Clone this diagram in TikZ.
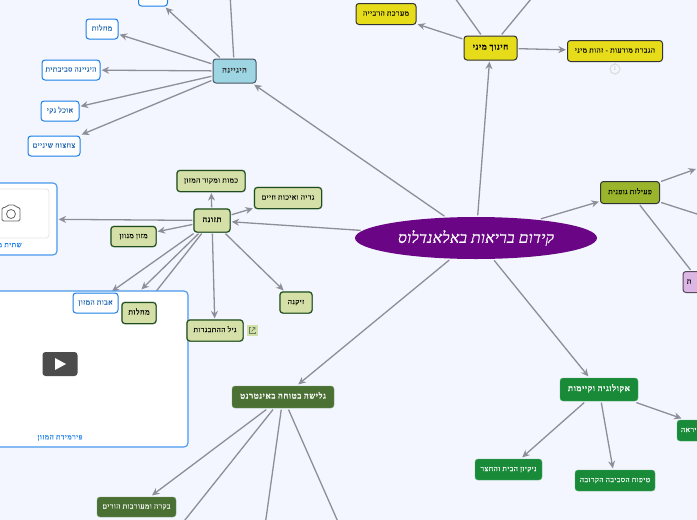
\documentclass[tikz,border=0pt]{standalone}
\usepackage{fontspec}
\usetikzlibrary{arrows.meta,shapes.geometric}
\TeXXeTstate=1
\newfontfamily\hbf[Script=Hebrew,LetterSpace=8,FakeBold=0.3]{Liberation Serif}
\newfontfamily\hbr[Script=Hebrew,LetterSpace=2,FakeBold=0.8]{Liberation Serif}
\newcommand{\hetxt}[1]{{\hbf\beginR #1\endR}}
\newcommand{\hetop}[1]{{\hbr\itshape\beginR #1\endR}}
\definecolor{bgc}{HTML}{F3F6FF}
\definecolor{linkc}{HTML}{8E8E98}
\definecolor{yelc}{HTML}{E6DC1A}
\definecolor{olvc}{HTML}{9AB52B}
\definecolor{grnc}{HTML}{D5DFA8}
\definecolor{grnd}{HTML}{1F4D1F}
\definecolor{cyac}{HTML}{9DD5E3}
\definecolor{dgrc}{HTML}{4A7033}
\definecolor{ecoc}{HTML}{188A38}
\definecolor{purc}{HTML}{DCB6E4}
\definecolor{bluc}{HTML}{1A7FE8}
\definecolor{centc}{HTML}{6A0585}
\pgfdeclarelayer{bgl}
\pgfsetlayers{bgl,main}
\tikzset{
  x=1pt,y=-1pt,
  box/.style={rectangle,rounded corners=3pt,inner sep=0pt,outer sep=1.6pt,text height=4.5pt,text depth=1.5pt,font=\fontsize{7.1pt}{8pt}\selectfont,align=center},
  yelbox/.style={box,fill=yelc,draw=black!80,line width=1pt},
  olvbox/.style={box,fill=olvc,draw=black!80,line width=1pt},
  grnbox/.style={box,fill=grnc,draw=grnd,line width=1pt,preaction={draw=grnd!55,line width=1.8pt},text=black},
  cyabox/.style={box,fill=cyac,draw=black!70!cyan,line width=1pt,text=black!80},
  bluebox/.style={box,fill=white,draw=bluc,line width=1pt,text=bluc!75!black},
  dgrbox/.style={box,fill=dgrc,text=white,draw=dgrc!70!white,line width=.4pt},
  ecobox/.style={box,fill=ecoc,text=white,draw=ecoc!70!white,line width=.4pt},
  purbox/.style={box,fill=purc,draw=purc!40!black,line width=1pt},
  card/.style={rectangle,rounded corners=4pt,fill=white,draw=bluc!80!white,line width=1.1pt,inner sep=0pt,outer sep=1.6pt},
  caption/.style={inner sep=0pt,text=bluc,font=\fontsize{7.1pt}{8pt}\selectfont},
  link/.style={draw=linkc,line width=1.3pt,-{Stealth[length=7.5pt,width=7pt]}},
  plain/.style={draw=linkc,line width=1.3pt},
}
\begin{document}
\begin{tikzpicture}
\useasboundingbox (0,0) rectangle (697,520);
\begin{pgfonlayer}{bgl}
\fill[bgc] (0,0) rectangle (697,520);
\end{pgfonlayer}
\clip (0,0) rectangle (697,520);

% cards
\node[card,minimum width=92pt,minimum height=72pt] (cam) at (11,219) {};
\draw[black!10,fill=white,rounded corners=3pt,line width=.8pt] (-27,189) rectangle (49,238);
\node[caption] (camcap) at (6,245) {\hetxt{שתית מים}};
\node[card,minimum width=256pt,minimum height=156pt] (vid) at (60,369) {};
\node[rectangle,rounded corners=3pt,fill=black!70,minimum width=35pt,minimum height=24pt,inner sep=0pt] (playb) at (60,364) {};
\fill[white] (55,358) -- (66,364) -- (55,370) -- cycle;
\node[caption] (vidcap) at (60,438) {\hetxt{פירמידת המזון}};
% camera icon
\draw[black!60,line width=.8pt,rounded corners=1.5pt,fill=white] (2,207.5) -- (6,207.5) -- (7.5,205) -- (15,205) -- (16.5,207.5) -- (20,207.5) -- (20,221) -- (2,221) -- cycle;
\draw[black!60,line width=.8pt] (11,214) circle (4.5pt);

% root
\node[ellipse,fill=centc,text=white,minimum width=242pt,minimum height=42pt,inner sep=0pt,outer sep=1.6pt,font=\fontsize{15.5pt}{17pt}\selectfont] (root) at (476,238) {\hetop{קידום בריאות באלאנדלוס}};

% chinuch
\node[yelbox,minimum width=53pt,minimum height=24pt,font=\fontsize{8.3pt}{9pt}\selectfont\bfseries] (min) at (490.5,48) {\hetxt{חינוך מיני}};
\node[yelbox,minimum width=60pt,minimum height=21pt] (rep) at (386,14) {\hetxt{מערכת הרבייה}};
\node[yelbox,minimum width=95pt,minimum height=21pt] (mod) at (615,51) {\hetxt{הגברת מודעות - זהות מיני}};
\draw[black!15,line width=.8pt] (615,62) -- (615,64);
\node[circle,draw=black!15,line width=1pt,inner sep=0pt,minimum size=10pt,text=black!25,font=\fontsize{6pt}{6pt}\selectfont] (numb) at (615,69) {1};

% sport
\node[olvbox,minimum width=59pt,minimum height=22pt] (gym) at (630,192.5) {\hetxt{פעילות גופנית}};
\node[purbox,minimum width=34pt,minimum height=21pt,text width=26pt,align=left] (pur) at (700,282) {\hetxt{ת}};

% hygiene
\node[cyabox,minimum width=43pt,minimum height=24pt,font=\fontsize{8pt}{9pt}\selectfont\bfseries] (hyg) at (234.5,71) {\hetxt{היגיינה}};
\node[bluebox,minimum width=29pt,minimum height=20pt] (htop) at (153,-4) {};
\node[bluebox,minimum width=32pt,minimum height=20pt] (hdis) at (102,29) {\hetxt{מחלות}};
\node[bluebox,minimum width=58pt,minimum height=20pt] (henv) at (71,70) {\hetxt{היגיינה סביבתית}};
\node[bluebox,minimum width=38pt,minimum height=20pt] (hfood) at (60,111) {\hetxt{אוכל נקי}};
\node[bluebox,minimum width=52pt,minimum height=20pt] (hteeth) at (54,146) {\hetxt{צחצוח שיניים}};

% nutrition
\node[grnbox,minimum width=36pt,minimum height=23pt,font=\fontsize{8pt}{9pt}\selectfont\bfseries] (nut) at (212,220.5) {\hetxt{תזונה}};
\node[grnbox,minimum width=68pt,minimum height=21pt] (amt) at (211,181) {\hetxt{כמות ומקור המזון}};
\node[grnbox,minimum width=67pt,minimum height=21pt] (grow) at (288,198) {\hetxt{גדיה ואיכות חיים}};
\node[grnbox,minimum width=45pt,minimum height=20pt] (var) at (133.5,236.5) {\hetxt{מזון מגוון}};
\node[bluebox,minimum width=45pt,minimum height=20pt] (avot) at (95.5,303) {\hetxt{אבות המזון}};
\node[grnbox,minimum width=34pt,minimum height=21pt,font=\fontsize{7.5pt}{8pt}\selectfont] (ndis) at (139,313) {\hetxt{מחלות}};
\node[grnbox,minimum width=56pt,minimum height=21pt] (teen) at (215,330.5) {\hetxt{גיל ההתבגרות}};
\node[grnbox,minimum width=32pt,minimum height=21pt] (old) at (296,302.5) {\hetxt{זיקנה}};
\node[rectangle,fill=grnc,minimum size=11pt,inner sep=0pt] (ext) at (252,330.5) {};
\draw[grnd!70,line width=.6pt] (250.5,327.5) -- (249,327.5) -- (249,333.5) -- (255,333.5) -- (255,331.5);
\draw[grnd!70,line width=.6pt] (251.5,331.5) -- (255,327.5) (252.5,327.5) -- (255,327.5) -- (255,329.5);

% internet
\node[dgrbox,minimum width=102pt,minimum height=22pt,font=\fontsize{8.2pt}{10pt}\selectfont\bfseries] (net) at (283,397) {\hetxt{גלישה בטוחה באינטרנט}};
\node[dgrbox,minimum width=79pt,minimum height=20pt] (par) at (136.5,507) {\hetxt{בקרה ומעורבות הורים}};

% ecology
\node[ecobox,minimum width=78pt,minimum height=23pt,font=\fontsize{8.3pt}{10pt}\selectfont\bfseries] (eco) at (599,389.5) {\hetxt{אקולוגיה וקיימות}};
\node[ecobox,minimum width=67pt,minimum height=21pt] (clean) at (508.5,469.5) {\hetxt{ניקיון הבית והחצר}};
\node[ecobox,minimum width=80pt,minimum height=21pt] (care) at (615,480.5) {\hetxt{טיפוח הסביבה הקרובה}};
\node[ecobox,minimum width=78pt,minimum height=21pt,text width=70pt,align=left] (hlth) at (716,430.5) {\hetxt{יראה}};

% free ends
\coordinate (fa) at (435,-30);
\coordinate (fb) at (555,-30);
\coordinate (fc) at (696,169);
\coordinate (fd) at (730,224.6);
\coordinate (fe) at (228,-40);
\coordinate (ff) at (169,540);
\coordinate (fg) at (263,540);
\coordinate (fh) at (346,540);

\begin{pgfonlayer}{bgl}
\draw[link] (root) -- (min);
\draw[link] (root) -- (gym);
\draw[link] (root) -- (hyg);
\draw[link] (root) -- (nut);
\draw[link] (root) -- (net);
\draw[link] (root) -- (eco);
\draw[link] (min) -- (rep);
\draw[link] (min) -- (mod);
\draw[plain] (min) -- (fa);
\draw[plain] (min) -- (fb);
\draw[link] (gym) -- (fc);
\draw[plain] (gym) -- (fd);
\draw[plain] (gym) -- (pur);
\draw[link] (hyg) -- (htop);
\draw[link] (hyg) -- (hdis);
\draw[link] (hyg) -- (henv);
\draw[link] (hyg) -- (hfood);
\draw[link] (hyg) -- (hteeth);
\draw[plain] (hyg) -- (fe);
\draw[link] (nut) -- (amt);
\draw[link] (nut) -- (grow);
\draw[link] (nut) -- (var);
\draw[link] (nut) -- (cam);
\draw[link] (nut) -- (avot);
\draw[link] (nut) -- (vid);
\draw[link] (nut) -- (ndis);
\draw[link] (nut) -- (teen);
\draw[link] (nut) -- (old);
\draw[link] (net) -- (par);
\draw[plain] (net) -- (ff);
\draw[plain] (net) -- (fg);
\draw[plain] (net) -- (fh);
\draw[link] (eco) -- (clean);
\draw[link] (eco) -- (care);
\draw[link] (eco) -- (hlth);
\end{pgfonlayer}
\end{tikzpicture}
\end{document}
